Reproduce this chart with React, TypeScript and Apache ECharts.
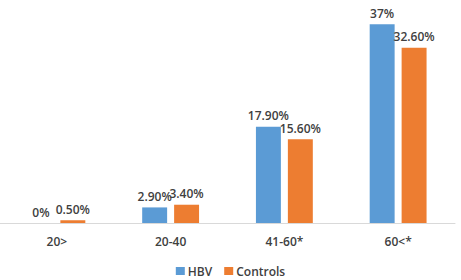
import React, { useEffect, useRef } from "react";
import * as echarts from "echarts";

const categories = ["20>", "20-40", "41-60*", "60<*"];
const hbvValues = [0, 2.9, 17.9, 37];
const controlValues = [0.5, 3.4, 15.6, 32.6];
const hbvLabels = ["0%", "2.90%", "17.90%", "37%"];
const controlLabels = ["0.50%", "3.40%", "15.60%", "32.60%"];

const FONT = "'Open Sans', 'Noto Sans', sans-serif";
const TEXT = "#404040";

export default function App() {
  const ref = useRef<HTMLDivElement>(null);
  useEffect(() => {
    document.body.style.margin = "0";
    const chart = echarts.init(ref.current!, null, { renderer: "svg" });
    const labelStyle = (labels: string[]) => ({
      show: true,
      position: "top" as const,
      distance: 5,
      color: TEXT,
      fontFamily: FONT,
      fontWeight: 600,
      fontSize: 12,
      formatter: (p: any) => labels[p.dataIndex],
    });
    chart.setOption({
      animation: false,
      grid: { left: -13, right: 6, top: 8, bottom: 57, containLabel: false },
      legend: {
        bottom: -2,
        left: "center",
        itemWidth: 9,
        itemHeight: 8,
        itemGap: 12,
        icon: "rect",
        textStyle: { color: TEXT, fontFamily: FONT, fontWeight: 600, fontSize: 12, padding: [0, 0, 0, -2] },
        data: ["HBV", "Controls"],
      },
      xAxis: {
        type: "category",
        data: categories,
        axisLine: { lineStyle: { color: "#d9d9d9", width: 1 } },
        axisTick: { show: false },
        axisLabel: { color: TEXT, fontFamily: FONT, fontWeight: 600, fontSize: 12, margin: 12 },
      },
      yAxis: {
        type: "value",
        min: 0,
        max: 40,
        show: false,
        splitLine: { show: false },
      },
      series: [
        {
          name: "HBV",
          type: "bar",
          data: hbvValues,
          itemStyle: { color: "#5B9BD5" },
          barGap: "28%",
          barCategoryGap: "50%",
          label: labelStyle(hbvLabels),
        },
        {
          name: "Controls",
          type: "bar",
          data: controlValues,
          itemStyle: { color: "#ED7D31" },
          barGap: "28%",
          barCategoryGap: "50%",
          label: labelStyle(controlLabels),
        },
      ],
    });
    return () => chart.dispose();
  }, []);
  return <div ref={ref} style={{ width: 461, height: 280 }} />;
}
